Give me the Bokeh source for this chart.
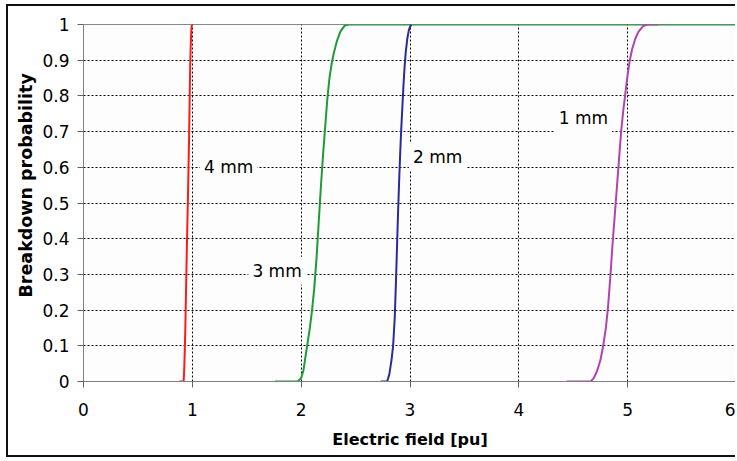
from bokeh.plotting import figure
from bokeh.models import FixedTicker, Label, Range1d, Title
from bokeh.embed import file_html
from bokeh.resources import INLINE

# Breakdown probability curves vs. electric field for four gap lengths
red_x = [0.88, 0.92, 0.925, 0.93, 0.935, 0.94, 0.945, 0.95, 0.955, 0.96,
         0.965, 0.97, 0.975, 0.98, 0.985, 0.99, 0.995]
red_y = [0.0, 0.0, 0.03, 0.08, 0.14, 0.22, 0.3, 0.38, 0.45, 0.52,
         0.6, 0.68, 0.78, 0.88, 0.94, 0.98, 1.0]

green_x = [1.76, 1.97, 2.0, 2.02, 2.04, 2.06, 2.08, 2.1, 2.12, 2.14, 2.16,
           2.18, 2.2, 2.22, 2.24, 2.26, 2.28, 2.3, 2.33, 2.36, 2.4, 2.44, 6.0]
green_y = [0.0, 0.0, 0.01, 0.03, 0.07, 0.11, 0.15, 0.2, 0.26, 0.34, 0.44,
           0.54, 0.63, 0.71, 0.79, 0.85, 0.89, 0.92, 0.955, 0.98, 0.997, 1.0, 1.0]

blue_x = [2.73, 2.79, 2.81, 2.83, 2.845, 2.86, 2.87, 2.88, 2.89, 2.9, 2.91,
          2.92, 2.93, 2.94, 2.95, 2.96, 2.975, 2.99, 3.01]
blue_y = [0.0, 0.0, 0.02, 0.06, 0.1, 0.18, 0.27, 0.37, 0.47, 0.56, 0.64,
          0.71, 0.77, 0.83, 0.88, 0.92, 0.96, 0.985, 1.0]

magenta_x = [4.44, 4.66, 4.69, 4.72, 4.75, 4.775, 4.8, 4.82, 4.84, 4.86, 4.88,
             4.9, 4.92, 4.94, 4.96, 4.98, 5.0, 5.02, 5.04, 5.07, 5.1, 5.14,
             5.18, 5.28]
magenta_y = [0.0, 0.0, 0.01, 0.03, 0.06, 0.1, 0.15, 0.21, 0.29, 0.38, 0.46,
             0.54, 0.62, 0.7, 0.76, 0.81, 0.86, 0.9, 0.93, 0.96, 0.98, 0.995,
             1.0, 1.0]

gap_labels = ["4 mm", "3 mm", "2 mm", "1 mm"]

x_ticks = [0, 1, 2, 3, 4, 5, 6]
y_ticks = [0.0, 0.1, 0.2, 0.3, 0.4, 0.5, 0.6, 0.7, 0.8, 0.9, 1.0]
y_tick_labels = ["0", "0.1", "0.2", "0.3", "0.4", "0.5", "0.6", "0.7",
                 "0.8", "0.9", "1"]

FONT = "DejaVu Sans"

p = figure(width=729, height=453,
           x_range=Range1d(0, 6), y_range=Range1d(0, 1),
           output_backend="svg", toolbar_location=None,
           min_border_left=75, min_border_right=1,
           min_border_top=18, min_border_bottom=78)

p.styles = {"border-left": "2px solid #111111",
            "border-top": "2px solid #111111",
            "border-bottom": "2px solid #111111",
            "margin-left": "6px", "margin-top": "4px"}

p.background_fill_color = "#fdfdfd"
p.border_fill_color = "white"
p.outline_line_color = "#888888"
p.outline_line_width = 1

# grid: dotted black lines on the inner ticks only
p.xgrid.ticker = FixedTicker(ticks=[1, 2, 3, 4, 5])
p.ygrid.ticker = FixedTicker(ticks=y_ticks[1:-1])
for g in (p.xgrid, p.ygrid):
    g.grid_line_color = "#000000"
    g.grid_line_dash = "2 2"
    g.grid_line_width = 1

# axes
p.xaxis.ticker = FixedTicker(ticks=x_ticks)
p.yaxis.ticker = FixedTicker(ticks=y_ticks)
p.yaxis.major_label_overrides = dict(zip(y_ticks, y_tick_labels))
for ax in (p.xaxis, p.yaxis):
    ax.axis_line_color = "#808080"
    ax.major_tick_line_color = "#606060"
    ax.major_tick_out = 6
    ax.major_tick_in = 0
    ax.minor_tick_line_color = None
    ax.major_label_text_font = FONT
    ax.major_label_text_font_size = "17px"
    ax.major_label_text_color = "black"
    ax.axis_label_text_font = FONT
    ax.axis_label_text_font_style = "bold"
    ax.axis_label_text_color = "black"

p.xaxis.axis_label = "Electric field [pu]"
p.xaxis.axis_label_text_font_size = "16px"
p.xaxis.major_label_standoff = 15
p.xaxis.axis_label_standoff = 11
p.yaxis.major_label_standoff = 8

# vertical axis title, starting a little above the frame's lower edge
p.add_layout(Title(text="Breakdown probability", align="left", offset=84,
                   text_font=FONT, text_font_style="bold",
                   text_font_size="17.5px", text_color="black",
                   standoff=7), "left")

# curves
p.line(red_x, red_y, line_color="#ff1a1a", line_width=2)
p.line(green_x, green_y, line_color="#1f9a3a", line_width=2)
p.line(blue_x, blue_y, line_color="#2a2a9e", line_width=2)
p.line(magenta_x, magenta_y, line_color="#b043b0", line_width=2)

# gap length labels with a box behind them that hides the grid
label_pos = [(1.07, 0.602), (1.515, 0.31), (2.99, 0.63), (4.33, 0.737)]
for txt, (lx, ly) in zip(gap_labels, label_pos):
    p.add_layout(Label(x=lx, y=ly, text=txt, text_font=FONT,
                       text_font_size="17px", text_color="black",
                       text_baseline="middle", text_align="left",
                       background_fill_color="#fdfdfd", padding=4))

open("out.html", "w").write(file_html(p, INLINE))
